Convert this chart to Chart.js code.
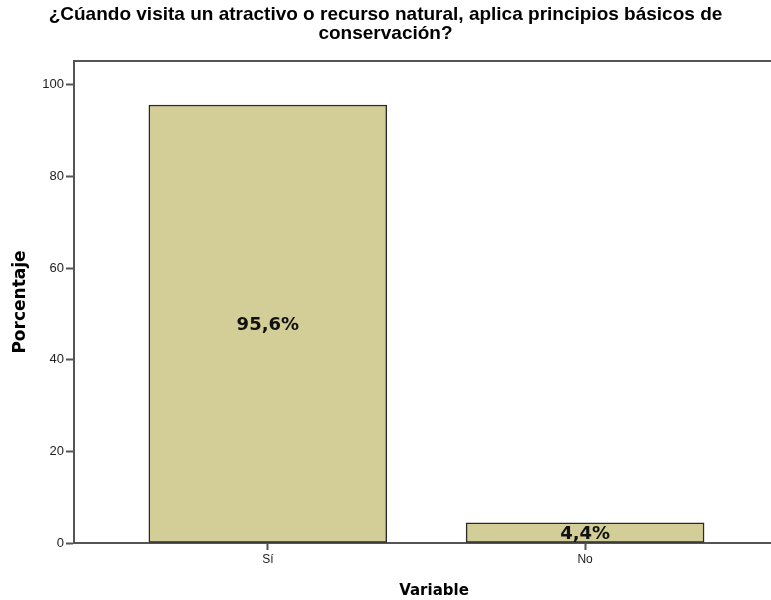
<!DOCTYPE html>
<html>
<head>
<meta charset="utf-8">
<script src="https://cdn.jsdelivr.net/npm/chart.js@4/dist/chart.umd.min.js"></script>
<style>
  html, body { margin: 0; padding: 0; background: #fff; }
  #wrap { width: 771px; height: 600px; position: relative; }
</style>
</head>
<body>
<div id="wrap"><canvas id="c" width="771" height="600"></canvas></div>
<script>
const titleLines = ['¿Cúando visita un atractivo o recurso natural, aplica principios básicos de', 'conservación?'];
const categories = ['Sí', 'No'];
const values = [95.6, 4.4];
const valueLabels = ['95,6%', '4,4%'];
const yTicks = [0, 20, 40, 60, 80, 100];
const xTitle = 'Variable';
const yTitle = 'Porcentaje';

const barColor = 'rgb(211,206,152)';
const axisColor = '#555555';

const extrasPlugin = {
  id: 'extras',
  beforeDatasetsDraw(chart) {
    const ctx = chart.ctx;
    const a = chart.chartArea;
    ctx.save();
    ctx.strokeStyle = axisColor;
    ctx.lineWidth = 2;
    ctx.beginPath();
    ctx.moveTo(a.left, a.top);
    ctx.lineTo(chart.width + 5, a.top);
    ctx.stroke();
    ctx.restore();
  },
  afterDatasetsDraw(chart) {
    const ctx = chart.ctx;
    const meta = chart.getDatasetMeta(0);
    ctx.save();
    ctx.font = 'bold 18px "DejaVu Sans"';
    ctx.fillStyle = '#111';
    ctx.textAlign = 'center';
    ctx.textBaseline = 'middle';
    meta.data.forEach((bar, i) => {
      const p = bar.getProps(['x', 'y', 'base'], true);
      ctx.fillText(valueLabels[i], p.x, (p.y + p.base) / 2 + 2);
    });
    // x-axis title, centred on the full (partly off-canvas) SPSS plot frame
    ctx.font = 'bold 15px "DejaVu Sans"';
    ctx.fillStyle = '#000';
    ctx.fillText(xTitle, 434, 591);
    ctx.restore();
  }
};

new Chart(document.getElementById('c'), {
  type: 'bar',
  data: {
    datasets: [{
      data: categories.map((c, i) => ({ x: i, y: values[i] })),
      backgroundColor: barColor,
      borderColor: '#2a2a2a',
      borderWidth: 1.5,
      borderSkipped: false,
      barThickness: 238
    }]
  },
  options: {
    responsive: false,
    animation: false,
    layout: { padding: { top: 0, left: 0, right: 0, bottom: 0 } },
    plugins: {
      legend: { display: false },
      tooltip: { enabled: false },
      title: {
        display: true,
        text: titleLines,
        color: '#000',
        font: { family: '"Liberation Sans", Arial, sans-serif', size: 19, weight: 'bold', lineHeight: 1.0 },
        padding: { top: 5.5, bottom: 17.5 }
      }
    },
    scales: {
      x: {
        type: 'linear',
        offset: false,
        min: -0.611,
        max: 1.586,
        afterBuildTicks(s) { s.ticks = categories.map((c, i) => ({ value: i })); },
        afterFit(s) { s.height = 57; },
        ticks: {
          callback: (v) => categories[v] !== undefined ? categories[v] : '',
          color: '#222',
          font: { family: '"Liberation Sans", Arial, sans-serif', size: 12 },
          padding: 2,
          maxRotation: 0,
          autoSkip: false
        },
        grid: { display: true, offset: false, drawOnChartArea: false, drawTicks: true, tickLength: 7, color: axisColor, tickWidth: 2 },
        border: { display: true, color: axisColor, width: 2 },
        title: { display: false }
      },
      y: {
        min: 0,
        max: 105.2,
        afterBuildTicks(s) { s.ticks = yTicks.map(v => ({ value: v })); },
        afterFit(s) { s.width = 74; },
        ticks: {
          color: '#222',
          font: { family: '"Liberation Sans", Arial, sans-serif', size: 13 },
          padding: 2
        },
        grid: { display: true, drawOnChartArea: false, drawTicks: true, tickLength: 8, color: axisColor, tickWidth: 2 },
        border: { display: true, color: axisColor, width: 2 },
        title: {
          display: true,
          text: yTitle,
          color: '#000',
          font: { family: '"DejaVu Sans"', size: 17, weight: 'bold' },
          padding: { top: 10, bottom: 0 }
        }
      }
    }
  },
  plugins: [extrasPlugin]
});
</script>
</body>
</html>
